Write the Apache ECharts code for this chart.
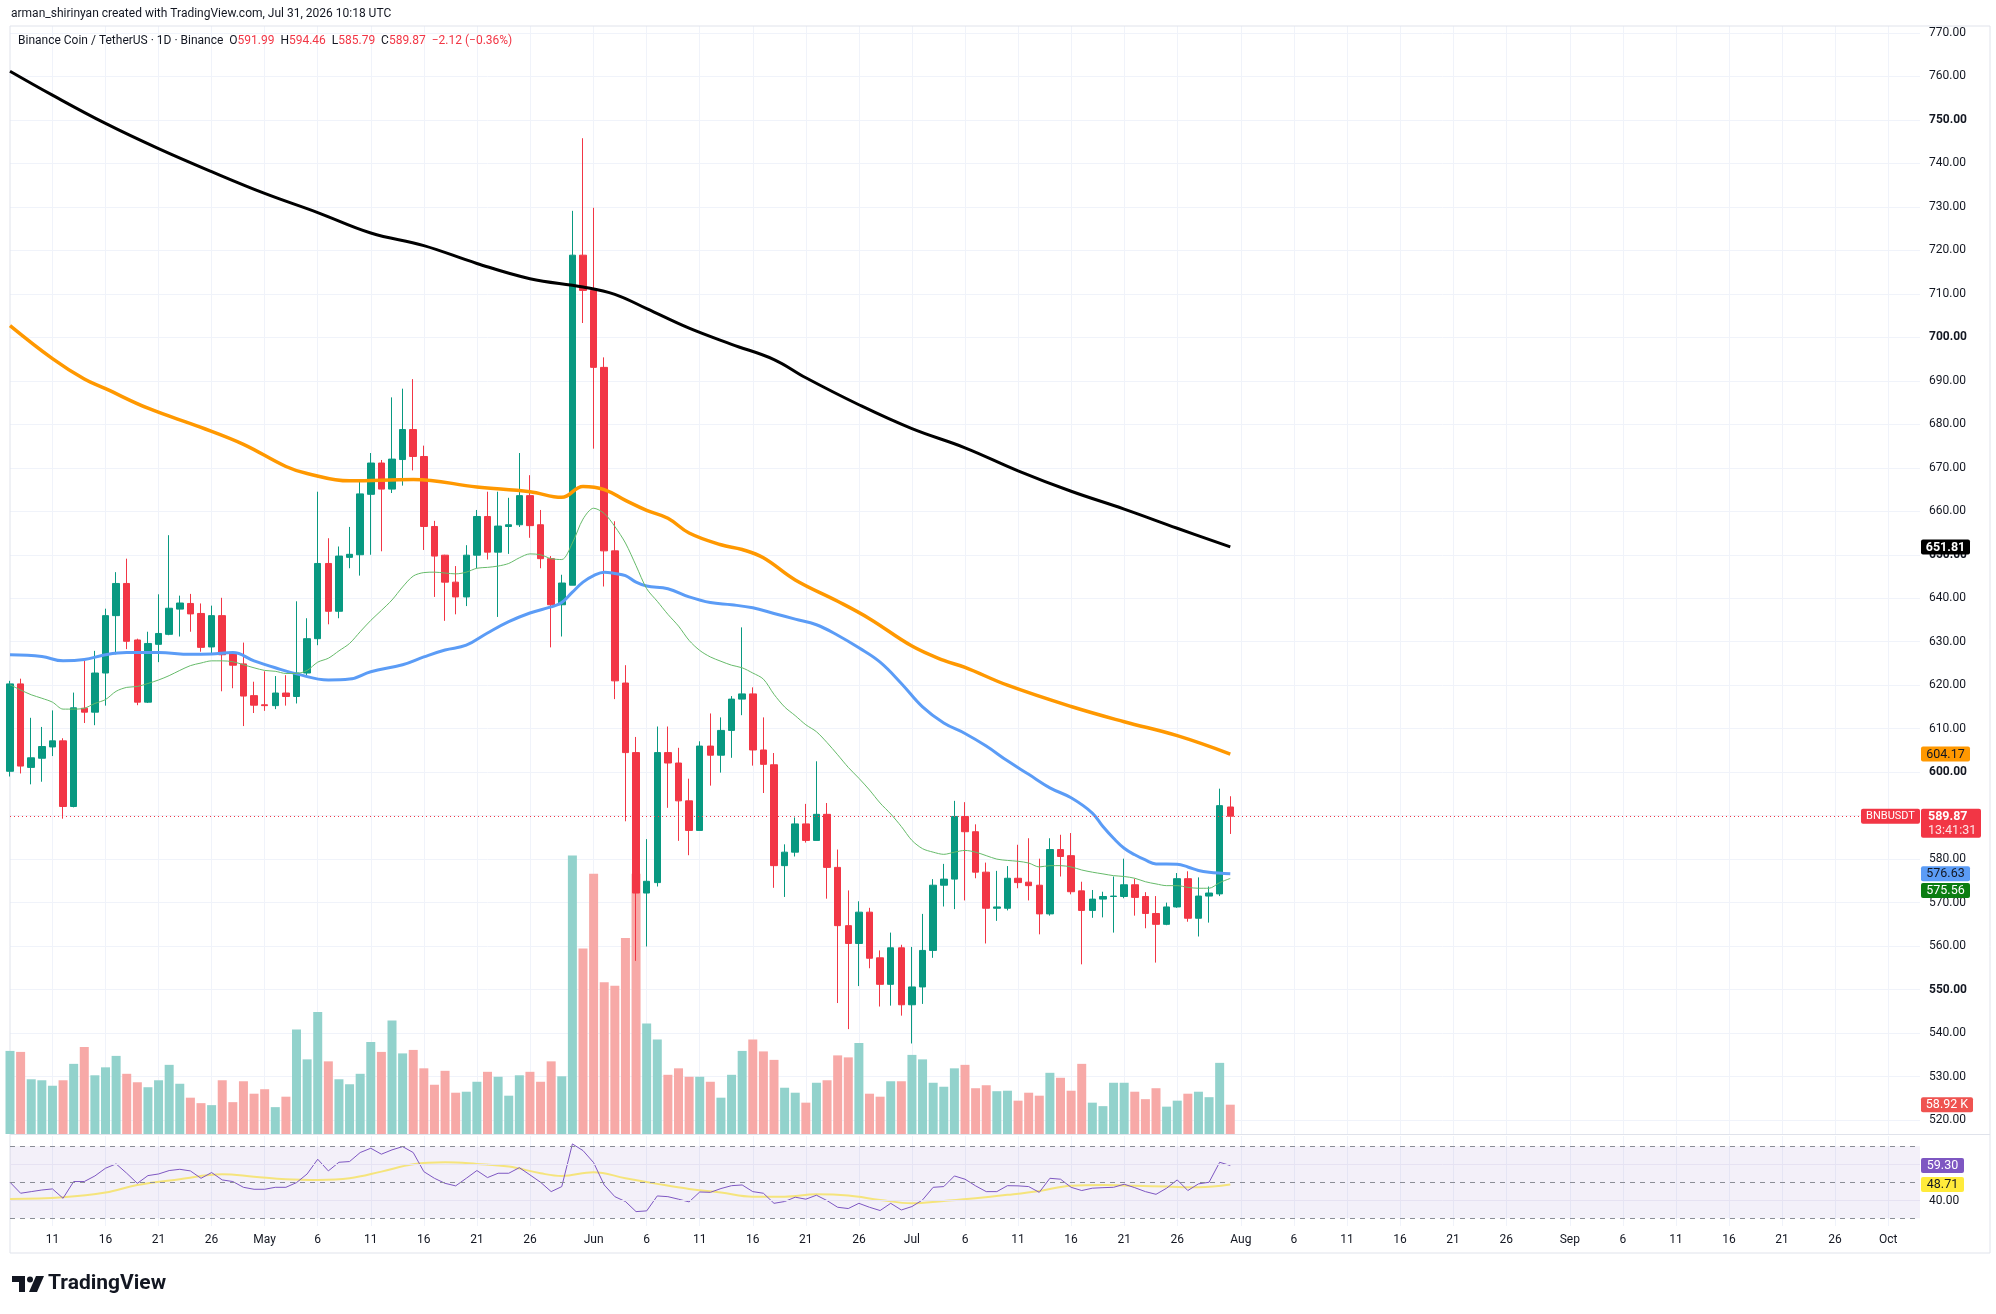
<!DOCTYPE html>
<html>
<head>
<meta charset="utf-8">
<title>BNBUSDT 1D</title>
<script src="https://cdn.jsdelivr.net/npm/echarts@6/dist/echarts.min.js"></script>
<style>
html, body { margin: 0; padding: 0; background: #ffffff; }
#main { width: 1996px; height: 1314px; }
</style>
</head>
<body>
<div id="main"></div>
<script>
// time axis: Apr 7 .. Oct 4, one slot per day
var firstDay = Date.UTC(2026, 3, 7);
var dayCount = 181;
var monthNames = ["Jan", "Feb", "Mar", "Apr", "May", "Jun", "Jul", "Aug", "Sep", "Oct", "Nov", "Dec"];
var dates = [];
for (var i = 0; i < dayCount; i++) {
  var d = new Date(firstDay + i * 86400000);
  var mm = d.getUTCMonth() + 1, dd = d.getUTCDate();
  dates.push((mm < 10 ? "0" : "") + mm + "-" + (dd < 10 ? "0" : "") + dd);
}

// daily candles Apr 7 .. Jul 31 : [open, close, low, high]
var candles = [
  [600.2, 620.3, 599.0, 621.0], [620.3, 601.4, 599.7, 621.5], [601.1, 603.3, 597.2, 612.5], [603.2, 605.9, 597.8, 610.4],
  [605.8, 607.2, 603.7, 614.2], [607.2, 592.1, 589.3, 607.8], [592.1, 614.8, 591.9, 618.3], [614.7, 613.8, 611.3, 625.6],
  [613.8, 622.8, 610.8, 627.9], [622.8, 636.0, 615.3, 637.6], [636.0, 643.4, 627.1, 646.0], [643.4, 630.1, 628.3, 649.1],
  [630.4, 616.1, 615.4, 630.7], [616.1, 629.6, 615.9, 632.3], [629.4, 631.9, 625.3, 640.9], [631.7, 637.7, 631.5, 654.5],
  [637.5, 638.9, 631.2, 640.6], [638.8, 636.4, 632.3, 641.0], [636.5, 628.7, 627.7, 638.8], [628.8, 636.0, 627.3, 638.3],
  [636.0, 627.0, 618.6, 640.1], [627.2, 624.6, 619.3, 627.7], [624.9, 617.5, 610.6, 629.8], [617.6, 615.4, 613.6, 620.8],
  // May
  [615.5, 615.3, 614.1, 623.2], [615.3, 618.2, 614.5, 622.1], [618.2, 617.4, 615.3, 622.3], [617.4, 622.8, 615.8, 639.3],
  [622.8, 630.7, 622.3, 635.4], [630.7, 648.0, 629.2, 664.5], [648.0, 637.0, 634.0, 653.8], [637.0, 649.7, 635.4, 651.9],
  [649.4, 650.1, 646.9, 656.4], [650.0, 664.0, 645.2, 667.0], [663.9, 671.1, 650.0, 673.4], [671.1, 665.1, 650.8, 671.8],
  [665.1, 672.0, 664.2, 686.2], [671.9, 678.8, 665.9, 688.2], [678.8, 672.6, 669.4, 690.4], [672.6, 656.5, 651.1, 675.1],
  [656.5, 649.7, 640.3, 657.8], [649.9, 643.7, 634.8, 650.0], [643.7, 640.3, 636.3, 647.4], [640.3, 649.9, 638.2, 652.2],
  [649.9, 658.8, 646.9, 660.3], [658.8, 650.6, 648.9, 664.5], [650.6, 656.6, 635.7, 664.5], [656.5, 656.9, 650.2, 663.1],
  [656.9, 663.6, 656.4, 673.4], [663.6, 656.7, 653.9, 668.3], [656.9, 649.1, 646.9, 660.3], [649.1, 638.5, 628.7, 649.7],
  [638.5, 643.5, 631.2, 645.4], [643.0, 718.9, 643.0, 729.1], [718.9, 710.8, 703.3, 745.8],
  // Jun
  [710.8, 693.1, 674.4, 729.8], [693.1, 650.9, 642.7, 695.4], [650.9, 621.0, 616.8, 657.7], [620.5, 604.5, 588.7, 624.6],
  [604.5, 572.2, 556.6, 608.1], [572.2, 574.9, 559.9, 584.6], [574.6, 604.5, 573.7, 610.5], [604.5, 602.1, 591.8, 610.5],
  [602.1, 593.4, 584.2, 605.6], [593.4, 586.6, 580.9, 598.5], [586.6, 606.0, 586.6, 607.1], [606.0, 603.9, 596.9, 613.5],
  [603.9, 609.6, 599.9, 612.6], [609.6, 616.8, 603.3, 617.5], [616.8, 618.0, 613.1, 633.3], [618.0, 605.1, 601.5, 619.5],
  [605.1, 601.8, 595.2, 612.6], [601.7, 578.5, 573.4, 604.4], [578.5, 581.6, 571.3, 583.4], [581.6, 588.1, 580.6, 589.6],
  [588.1, 584.3, 583.8, 592.7], [584.3, 590.3, 584.3, 602.5], [590.3, 578.1, 570.9, 592.9], [578.1, 564.7, 546.9, 582.2],
  [564.7, 560.6, 540.9, 572.8], [560.6, 567.8, 550.8, 570.3], [567.8, 557.2, 554.9, 568.8], [557.3, 551.2, 546.1, 559.0],
  [551.2, 559.6, 546.3, 563.1], [559.6, 546.5, 544.0, 560.3],
  // Jul
  [546.5, 550.6, 537.6, 559.8], [550.6, 559.0, 546.7, 567.4], [559.0, 574.0, 557.3, 575.4], [574.0, 575.4, 569.1, 578.9],
  [575.4, 589.8, 568.5, 593.4], [589.8, 586.3, 570.5, 593.1], [586.3, 577.0, 575.6, 588.0], [577.0, 568.7, 560.6, 579.2],
  [568.7, 569.0, 565.8, 577.3], [568.7, 575.6, 568.2, 578.4], [575.6, 574.6, 573.3, 583.3], [574.7, 573.9, 570.5, 584.8],
  [574.0, 567.4, 562.7, 580.1], [567.4, 582.2, 567.0, 584.8], [582.2, 580.6, 576.0, 585.6], [580.8, 572.5, 571.9, 586.0],
  [572.7, 568.2, 555.8, 574.8], [568.2, 570.8, 566.5, 572.9], [570.8, 571.4, 566.6, 572.5], [571.4, 571.5, 563.1, 576.0],
  [571.4, 574.1, 571.0, 580.1], [574.1, 571.2, 567.0, 575.5], [571.4, 567.5, 564.1, 572.4], [567.5, 565.0, 556.2, 571.5],
  [565.0, 569.0, 564.8, 570.0], [569.0, 575.5, 568.8, 576.8], [575.5, 566.4, 565.6, 577.2], [566.4, 571.5, 562.2, 575.8],
  [571.5, 572.2, 565.4, 573.7], [572.0, 592.3, 571.5, 596.2], [591.99, 589.87, 585.79, 594.46]
];

// daily volume, thousands
var volumes = [
  167, 165, 110, 108, 97, 108, 141, 175, 118, 134, 157, 121, 104, 94, 108, 139, 101, 73, 62, 58, 108, 64, 106, 81,
  90, 54, 75, 210, 150, 245, 146, 110, 100, 121, 185, 165, 228, 162, 169, 132, 99, 127, 83, 85, 105, 125, 115, 77, 118, 125, 105, 146, 116, 560, 373,
  523, 305, 298, 394, 523, 222, 190, 119, 132, 115, 115, 105, 73, 119, 167, 190, 166, 149, 93, 83, 63, 103, 108, 158, 154, 183, 81, 75, 106, 106,
  159, 150, 103, 95, 132, 139, 92, 98, 86, 87, 67, 83, 77, 123, 113, 87, 141, 63, 56, 103, 103, 85, 70, 92, 55, 67, 81, 85, 74, 143, 58.92
];

// thin green average, daily
var maGreen = [
  620.1, 618.9, 617.8, 617.0, 616.1, 614.5, 614.5, 614.7, 615.8, 616.7, 618.6, 619.5, 619.7, 620.4, 621.2, 622.2, 623.4, 624.5, 625.1, 625.6, 625.6, 625.4, 624.7, 624.0,
  623.4, 623.2, 622.7, 622.7, 623.4, 625.3, 626.2, 627.9, 629.6, 632.3, 634.9, 637.2, 639.6, 642.6, 645.1, 645.9, 646.0, 645.8, 645.6, 646.0, 646.9, 647.1, 647.4, 648.0, 649.3, 650.2, 650.0, 649.1, 648.9, 652.7, 658.2,
  660.7, 659.5, 656.5, 652.7, 647.5, 642.2, 639.3, 636.3, 633.6, 630.3, 628.0, 626.5, 625.5, 624.6, 624.0, 622.8, 621.4, 617.9, 615.0, 613.0, 610.9, 609.3, 606.8, 604.0, 601.1, 598.6, 595.9, 592.9, 590.4, 587.5,
  584.3, 582.4, 581.6, 581.1, 581.6, 582.0, 581.6, 580.8, 580.0, 579.7, 579.5, 579.1, 578.2, 578.5, 578.5, 578.2, 577.5, 577.0, 576.6, 576.2, 576.0, 575.6, 574.8, 574.3, 573.9, 573.9, 573.5, 573.3, 573.3, 574.6, 575.56
];

// blue average, read at these dates
var maBlue = [
  ["04-07", 627.0], ["04-10", 626.6], ["04-12", 625.6], ["04-14", 625.9], ["04-16", 627.0], ["04-18", 627.5], ["04-21", 627.5],
  ["04-24", 627.1], ["04-26", 627.2], ["04-28", 627.5], ["04-30", 625.6], ["05-02", 624.0], ["05-04", 622.6], ["05-07", 621.2],
  ["05-09", 621.4], ["05-11", 623.1], ["05-14", 624.7], ["05-16", 626.5], ["05-18", 628.1], ["05-20", 629.2], ["05-22", 632.0],
  ["05-24", 634.6], ["05-26", 636.6], ["05-28", 638.0], ["05-29", 639.0], ["05-30", 641.4], ["05-31", 643.7], ["06-01", 645.2],
  ["06-02", 646.0], ["06-03", 645.7], ["06-04", 645.2], ["06-05", 643.7], ["06-06", 642.8], ["06-08", 642.2], ["06-10", 640.3],
  ["06-12", 639.0], ["06-14", 638.5], ["06-16", 637.8], ["06-18", 636.5], ["06-20", 635.2], ["06-22", 633.9], ["06-24", 631.5],
  ["06-26", 628.6], ["06-28", 625.3], ["06-30", 620.4], ["07-02", 615.0], ["07-04", 611.3], ["07-06", 608.9], ["07-08", 606.0],
  ["07-10", 602.6], ["07-12", 599.5], ["07-14", 596.4], ["07-16", 594.1], ["07-18", 590.6], ["07-19", 587.5], ["07-20", 584.8],
  ["07-21", 582.5], ["07-22", 581.0], ["07-23", 579.8], ["07-24", 578.9], ["07-26", 578.8], ["07-27", 578.2], ["07-28", 577.4],
  ["07-29", 577.0], ["07-31", 576.63]
];

// orange average
var maOrange = [
  ["04-07", 702.7], ["04-11", 695.1], ["04-14", 690.4], ["04-16", 688.2], ["04-20", 683.7], ["04-25", 679.3], ["04-29", 675.4],
  ["05-03", 670.3], ["05-05", 668.7], ["05-09", 667.0], ["05-15", 667.3], ["05-21", 665.6], ["05-26", 664.5], ["05-29", 663.2],
  ["05-31", 665.7], ["06-02", 665.0], ["06-04", 662.5], ["06-06", 660.2], ["06-08", 658.4], ["06-10", 655.0], ["06-13", 652.3],
  ["06-15", 651.2], ["06-17", 649.3], ["06-20", 644.2], ["06-24", 639.3], ["06-27", 635.3], ["07-01", 629.0], ["07-04", 625.7],
  ["07-06", 624.1], ["07-10", 620.0], ["07-16", 615.1], ["07-21", 611.6], ["07-26", 608.4], ["07-31", 604.17]
];

// black average
var maBlack = [
  ["04-07", 761.2], ["04-11", 755.7], ["04-16", 749.2], ["04-21", 743.4], ["04-26", 738.1], ["05-01", 733.1], ["05-06", 728.7],
  ["05-11", 724.0], ["05-16", 721.1], ["05-21", 717.0], ["05-26", 713.5], ["05-31", 711.6], ["06-03", 709.9], ["06-06", 706.6],
  ["06-10", 702.1], ["06-14", 698.4], ["06-18", 694.9], ["06-21", 690.7], ["06-26", 684.5], ["07-01", 679.0], ["07-06", 674.6],
  ["07-11", 669.3], ["07-16", 664.6], ["07-21", 660.5], ["07-26", 656.1], ["07-31", 651.81]
];

// RSI, daily
var rsi = [
  50.0, 43.9, 44.8, 45.7, 46.3, 41.1, 50.4, 50.4, 53.5, 57.8, 60.2, 55.0, 49.4, 53.7, 54.6, 56.5, 57.2, 56.3, 52.2, 55.4, 51.3, 50.4, 47.2, 46.1,
  46.1, 47.2, 47.2, 49.8, 54.6, 62.8, 56.3, 61.1, 61.5, 66.5, 68.9, 65.6, 68.0, 69.8, 66.5, 55.9, 52.2, 49.4, 48.0, 52.2, 56.5, 52.6, 55.0, 55.0, 58.1, 54.1, 50.0, 44.8, 47.6, 71.3, 67.6,
  60.9, 48.5, 42.0, 39.3, 33.7, 34.1, 42.4, 42.0, 40.6, 39.1, 44.6, 44.4, 46.5, 48.1, 48.5, 44.8, 43.9, 38.3, 39.3, 41.7, 40.6, 42.8, 39.8, 36.1, 35.4, 38.3, 36.1, 34.3, 38.3, 34.6,
  36.5, 40.2, 47.2, 47.6, 53.5, 51.7, 48.0, 44.8, 44.8, 48.1, 48.0, 47.6, 44.4, 52.2, 51.7, 47.2, 45.4, 46.7, 47.0, 47.2, 48.9, 47.0, 44.8, 43.3, 46.7, 51.3, 45.4, 49.1, 50.0, 61.1, 59.3
];

// RSI smoothing line
var rsiMa = [
  ["04-07", 40.7], ["04-12", 41.7], ["04-16", 44.3], ["04-19", 48.5], ["04-23", 51.7], ["04-27", 54.4], ["04-30", 53.1],
  ["05-03", 51.7], ["05-06", 51.3], ["05-09", 52.2], ["05-12", 55.9], ["05-15", 60.0], ["05-18", 61.1], ["05-21", 60.2],
  ["05-24", 58.7], ["05-27", 55.0], ["05-29", 53.5], ["06-01", 55.6], ["06-04", 52.2], ["06-07", 49.1], ["06-10", 46.3],
  ["06-13", 44.3], ["06-16", 42.0], ["06-19", 42.0], ["06-22", 43.3], ["06-25", 42.6], ["06-28", 40.2], ["07-01", 38.3],
  ["07-04", 39.6], ["07-07", 41.1], ["07-10", 43.0], ["07-13", 45.2], ["07-16", 48.1], ["07-19", 48.5], ["07-22", 48.0],
  ["07-25", 47.6], ["07-28", 47.2], ["07-31", 48.71]
];

var lastPrice = 589.87;
var lastVolume = 58.92;

var UP = "#089981", DOWN = "#F23645";
var UP_VOL = "#92d2cc", DOWN_VOL = "#f7a9a7";
var FONT = "Roboto, 'Noto Sans', sans-serif";
var GRID_COLOR = "#f0f3fa";

function byDate(list) {
  return list.map(function (p) { return [dates.indexOf(p[0]), p[1]]; });
}
function isMark(index, value) {
  var day = parseInt(value.slice(3), 10);
  return day === 1 || (day % 5 === 1 && day <= 26);
}
function markText(value) {
  var day = parseInt(value.slice(3), 10);
  if (day === 1) return monthNames[parseInt(value.slice(0, 2), 10) - 1];
  return String(day);
}

var chart = echarts.init(document.getElementById("main"));

var xBase = {
  type: "category",
  data: dates,
  boundaryGap: false,
  axisLine: { show: false },
  axisTick: { show: false },
  axisLabel: { show: false },
  splitLine: { show: false }
};

option = {
  animation: false,
  backgroundColor: "#ffffff",
  grid: [
    { left: 10, top: 33, width: 1910, height: 1087, outerBoundsMode: "none" },
    { left: 10, top: 26, width: 1910, height: 1108, outerBoundsMode: "none" },
    { left: 10, top: 1136, width: 1910, height: 90, outerBoundsMode: "none" }
  ],
  xAxis: [
    Object.assign({}, xBase, { gridIndex: 0 }),
    Object.assign({}, xBase, {
      gridIndex: 1,
      splitLine: { show: true, interval: isMark, lineStyle: { color: GRID_COLOR, width: 1 } }
    }),
    Object.assign({}, xBase, {
      gridIndex: 2,
      splitLine: { show: true, interval: isMark, lineStyle: { color: GRID_COLOR, width: 1 } },
      axisLabel: {
        show: true,
        interval: isMark,
        formatter: markText,
        margin: 8,
        color: "#131722",
        fontSize: 12,
        fontFamily: FONT
      }
    })
  ],
  yAxis: [
    {
      gridIndex: 0,
      type: "value",
      position: "right",
      min: 520,
      max: 770,
      interval: 10,
      axisLine: { show: false },
      axisTick: { show: false },
      splitLine: { lineStyle: { color: GRID_COLOR, width: 1 } },
      axisLabel: {
        margin: 9,
        color: "#131722",
        fontSize: 12,
        fontFamily: FONT,
        formatter: function (v) {
          var s = v.toFixed(2);
          return v % 50 === 0 ? "{b|" + s + "}" : s;
        },
        rich: { b: { fontWeight: "bold", fontSize: 12, color: "#131722", fontFamily: FONT } }
      }
    },
    { gridIndex: 1, type: "value", min: 0, max: 2227, show: false, splitLine: { show: false } },
    { gridIndex: 2, type: "value", min: 25.7, max: 75.7, show: false, splitLine: { show: false } }
  ],
  series: [
    {
      name: "Volume",
      type: "bar",
      xAxisIndex: 1,
      yAxisIndex: 1,
      barWidth: 9,
      z: 1,
      silent: true,
      data: volumes.map(function (v, i) {
        var up = candles[i][1] >= candles[i][0];
        return { value: v, itemStyle: { color: up ? UP_VOL : DOWN_VOL } };
      })
    },
    {
      name: "BNBUSDT",
      type: "candlestick",
      xAxisIndex: 0,
      yAxisIndex: 0,
      barWidth: 7,
      z: 3,
      data: candles,
      itemStyle: { color: UP, color0: DOWN, borderColor: UP, borderColor0: DOWN, borderWidth: 1 },
      markLine: {
        silent: true,
        symbol: ["none", "none"],
        label: { show: false },
        lineStyle: { color: DOWN, type: [1, 3], width: 1 },
        data: [{ yAxis: lastPrice }]
      }
    },
    {
      name: "MA black",
      type: "line",
      xAxisIndex: 0,
      yAxisIndex: 0,
      z: 4,
      smooth: 0.4,
      showSymbol: false,
      silent: true,
      lineStyle: { color: "#000000", width: 3 },
      data: byDate(maBlack)
    },
    {
      name: "MA orange",
      type: "line",
      xAxisIndex: 0,
      yAxisIndex: 0,
      z: 4,
      smooth: 0.4,
      showSymbol: false,
      silent: true,
      lineStyle: { color: "#FF9800", width: 3.5 },
      data: byDate(maOrange)
    },
    {
      name: "MA blue",
      type: "line",
      xAxisIndex: 0,
      yAxisIndex: 0,
      z: 4,
      smooth: 0.4,
      showSymbol: false,
      silent: true,
      lineStyle: { color: "#5B9CF6", width: 3 },
      data: byDate(maBlue)
    },
    {
      name: "MA green",
      type: "line",
      xAxisIndex: 0,
      yAxisIndex: 0,
      z: 4,
      smooth: 0.3,
      showSymbol: false,
      silent: true,
      lineStyle: { color: "#66bb6a", width: 1 },
      data: maGreen
    },
    {
      name: "RSI",
      type: "line",
      xAxisIndex: 2,
      yAxisIndex: 2,
      z: 4,
      showSymbol: false,
      silent: true,
      lineStyle: { color: "#7E57C2", width: 1 },
      data: rsi,
      markArea: {
        silent: true,
        itemStyle: { color: "rgba(126,87,194,0.09)" },
        data: [[{ yAxis: 30 }, { yAxis: 70 }]]
      },
      markLine: {
        silent: true,
        symbol: ["none", "none"],
        label: { show: false },
        lineStyle: { color: "#8a8d96", type: [5, 5], width: 1 },
        data: [{ yAxis: 70 }, { yAxis: 50 }, { yAxis: 30 }]
      }
    },
    {
      name: "RSI MA",
      type: "line",
      xAxisIndex: 2,
      yAxisIndex: 2,
      z: 3,
      smooth: 0.4,
      showSymbol: false,
      silent: true,
      lineStyle: { color: "#f5e47c", width: 2 },
      data: byDate(rsiMa),
      markLine: {
        silent: true,
        symbol: ["none", "none"],
        label: { show: false },
        lineStyle: { color: "#e6e2f2", type: "solid", width: 1 },
        data: [{ yAxis: 60 }, { yAxis: 40 }]
      }
    }
  ]
};
chart.setOption(option);

// header, legend, frame and price tags
function tag(x, yc, w, h, bg, txt, fg, weight, size) {
  return {
    type: "group",
    z: 100,
    children: [
      { type: "rect", z: 100, shape: { x: x, y: yc - h / 2, width: w, height: h, r: 2 }, style: { fill: bg } },
      {
        type: "text", z: 101, x: x + w / 2, y: yc + 0.5,
        style: { text: txt, fill: fg, font: (weight || "normal") + " " + (size || 12.5) + "px " + FONT, verticalAlign: "middle", align: "center" }
      }
    ]
  };
}

var pPrice = function (v) { return chart.convertToPixel({ yAxisIndex: 0 }, v); };
var pVol = function (v) { return chart.convertToPixel({ yAxisIndex: 1 }, v); };
var pRsi = function (v) { return chart.convertToPixel({ yAxisIndex: 2 }, v); };

var tagX = 1921;
var yLast = pPrice(lastPrice);
var graphics = [
  { type: "rect", z: 0, shape: { x: 10, y: 26, width: 1980, height: 1227 }, style: { fill: "none", stroke: "#e0e3eb", lineWidth: 1 } },
  { type: "line", z: 0, shape: { x1: 10, y1: 1134.5, x2: 1990, y2: 1134.5 }, style: { stroke: "#e0e3eb", lineWidth: 1 } },
  {
    type: "text", x: 11, y: 8,
    style: { text: "arman_shirinyan created with TradingView.com, Jul 31, 2026 10:18 UTC", fill: "#131722", font: "12px " + FONT }
  },
  {
    type: "text", x: 18, y: 35,
    style: {
      text: "{n|Binance Coin / TetherUS · 1D · Binance}  {n|O}{v|591.99}  {n|H}{v|594.46}  {n|L}{v|585.79}  {n|C}{v|589.87}  {v|−2.12 (−0.36%)}",
      font: "12px " + FONT,
      rich: {
        n: { fill: "#131722", font: "12px " + FONT },
        v: { fill: "#F23645", font: "12px " + FONT }
      }
    }
  },
  // TradingView logo
  { type: "polygon", shape: { points: [[12, 1276], [25, 1276], [25, 1292], [19, 1292], [19, 1282], [12, 1282]] }, style: { fill: "#131722" } },
  { type: "circle", shape: { cx: 30, cy: 1279.5, r: 3 }, style: { fill: "#131722" } },
  { type: "polygon", shape: { points: [[36, 1276], [44, 1276], [37, 1292], [29, 1292]] }, style: { fill: "#131722" } },
  {
    type: "text", x: 48, y: 1284,
    style: { text: "TradingView", fill: "#131722", font: "bold 21px " + FONT, verticalAlign: "middle" }
  },
  {
    type: "text", x: 1929, y: pRsi(40) + 0.5,
    style: { text: "40.00", fill: "#131722", font: "12px " + FONT, verticalAlign: "middle" }
  },
  tag(tagX, pPrice(651.81), 49, 15, "#000000", "651.81", "#ffffff", "bold"),
  tag(tagX, pPrice(604.17), 49, 15, "#FF9800", "604.17", "#131722"),
  tag(tagX, pPrice(576.63), 49, 15, "#5B9CF6", "576.63", "#131722"),
  tag(tagX, pPrice(575.56) + 12, 49, 15, "#0b7d12", "575.56", "#ffffff"),
  tag(tagX, pVol(lastVolume), 52, 15, "#ef5350", "58.92 K", "#ffffff"),
  tag(tagX, pRsi(59.30), 43, 15, "#7E57C2", "59.30", "#ffffff"),
  tag(tagX, pRsi(48.71), 43, 15, "#FFEB3B", "48.71", "#131722"),
  tag(1861, yLast, 59, 15, DOWN, "BNBUSDT", "#ffffff", "normal", 11),
  {
    type: "group",
    z: 100,
    children: [
      { type: "rect", z: 100, shape: { x: tagX, y: yLast - 7.5, width: 60, height: 29, r: 2 }, style: { fill: DOWN } },
      { type: "text", z: 101, x: tagX + 7, y: yLast + 0.5, style: { text: "589.87", fill: "#ffffff", font: "bold 12.5px " + FONT, verticalAlign: "middle" } },
      { type: "text", z: 101, x: tagX + 7, y: yLast + 14.5, style: { text: "13:41:31", fill: "#fde3e5", font: "12.5px " + FONT, verticalAlign: "middle" } }
    ]
  }
];
chart.setOption({ graphic: graphics });
</script>
</body>
</html>
